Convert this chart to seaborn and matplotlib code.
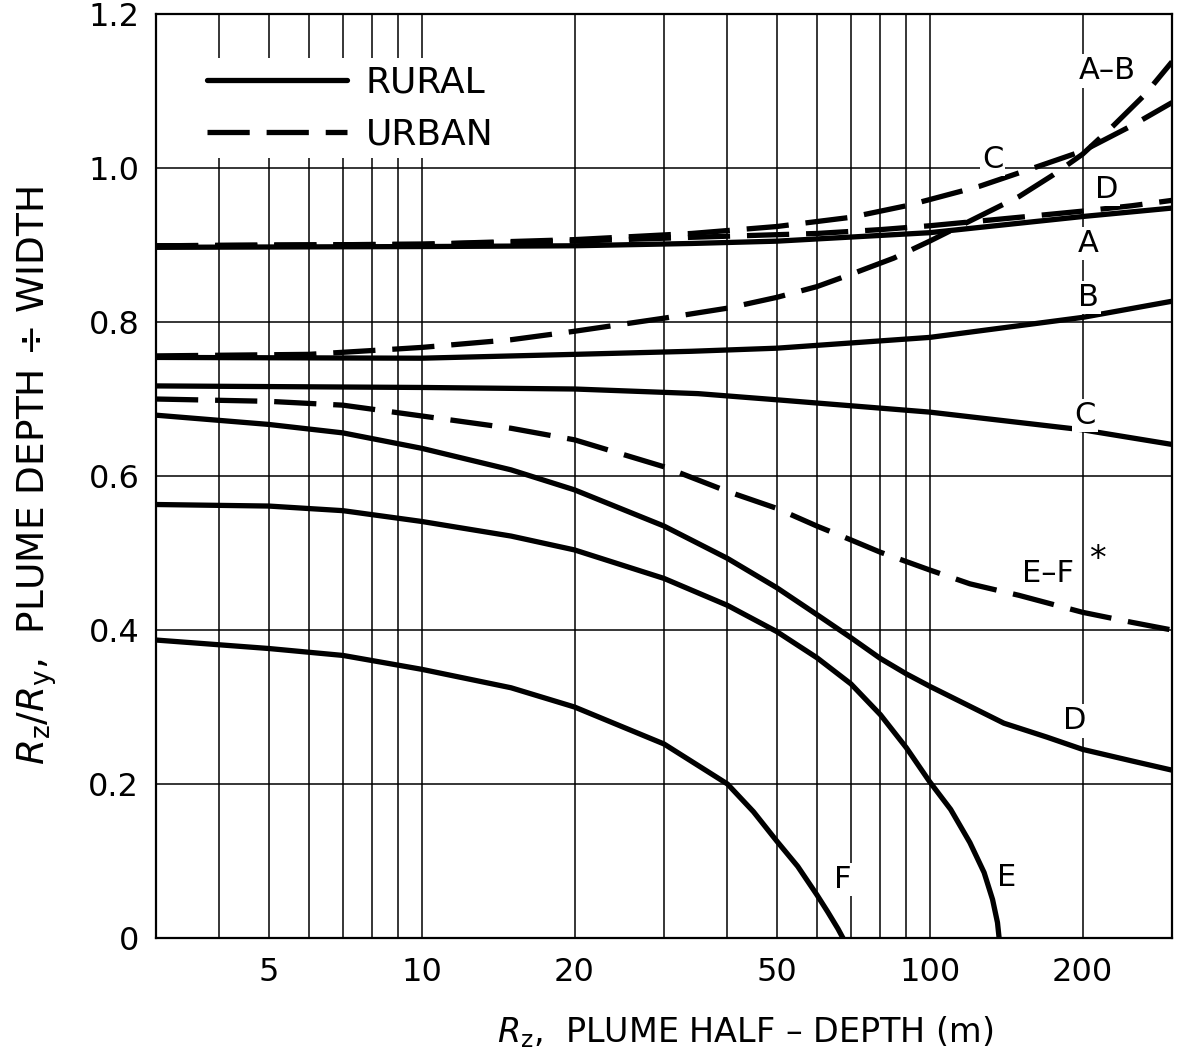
import numpy as np
import pandas as pd
import seaborn as sns
import matplotlib
matplotlib.use("Agg")
import matplotlib.pyplot as plt
from matplotlib.lines import Line2D

# ---- data ----
# rural (solid)
rural_A_x = [3, 10, 20, 34, 50, 100, 200, 300]
rural_A_y = [0.897, 0.898, 0.899, 0.902, 0.905, 0.916, 0.937, 0.948]
rural_B_x = [3, 10, 20, 34, 50, 100, 200, 300]
rural_B_y = [0.754, 0.753, 0.758, 0.762, 0.766, 0.780, 0.806, 0.827]
rural_C_x = [3, 10, 20, 35, 50, 100, 200, 300]
rural_C_y = [0.717, 0.715, 0.713, 0.707, 0.699, 0.683, 0.660, 0.641]
rural_D_x = [3, 5, 7, 10, 15, 20, 30, 40, 50, 60, 70, 80, 90, 100, 120, 140,
             170, 200, 250, 300]
rural_D_y = [0.679, 0.667, 0.656, 0.636, 0.608, 0.582, 0.535, 0.493, 0.455,
             0.420, 0.390, 0.363, 0.343, 0.327, 0.301, 0.279, 0.261, 0.245,
             0.230, 0.218]
rural_E_x = [3, 5, 7, 10, 15, 20, 30, 40, 50, 60, 70, 80, 90, 100, 110, 120,
             128, 133, 136, 137]
rural_E_y = [0.563, 0.561, 0.555, 0.541, 0.522, 0.504, 0.467, 0.432, 0.398,
             0.364, 0.330, 0.290, 0.247, 0.203, 0.167, 0.124, 0.085, 0.050,
             0.020, 0.0]
rural_F_x = [3, 5, 7, 10, 15, 20, 30, 40, 45, 50, 55, 60, 63, 66, 67.5]
rural_F_y = [0.387, 0.376, 0.367, 0.349, 0.325, 0.300, 0.252, 0.200, 0.164,
             0.126, 0.093, 0.056, 0.034, 0.012, 0.0]

# urban (dashed)
urban_AB_x = [3, 6, 8, 10, 15, 20, 30, 40, 50, 60, 70, 85, 100, 125, 150, 175,
              200, 230, 265, 300]
urban_AB_y = [0.756, 0.758, 0.763, 0.767, 0.777, 0.788, 0.805, 0.818, 0.832,
              0.846, 0.862, 0.883, 0.905, 0.937, 0.963, 0.991, 1.018, 1.055,
              1.095, 1.138]
urban_C_x = [3, 10, 20, 34, 50, 70, 90, 100, 125, 160, 200, 250, 300]
urban_C_y = [0.899, 0.901, 0.907, 0.915, 0.924, 0.936, 0.951, 0.959, 0.976,
             1.000, 1.022, 1.055, 1.085]
urban_D_x = [3, 10, 20, 34, 60, 80, 100, 150, 200, 250, 300]
urban_D_y = [0.899, 0.901, 0.905, 0.910, 0.915, 0.920, 0.925, 0.936, 0.944,
             0.951, 0.958]
urban_EF_x = [3, 5, 7, 10, 15, 20, 30, 40, 50, 60, 70, 80, 100, 120, 150, 200,
              250, 300]
urban_EF_y = [0.700, 0.697, 0.692, 0.678, 0.662, 0.647, 0.612, 0.580, 0.558,
              0.535, 0.517, 0.501, 0.478, 0.460, 0.445, 0.423, 0.410, 0.400]

# curve labels
label_text = ["A–B", "C", "D", "A", "B", "C", "E–F", "D", "F", "E"]
label_x = [224, 133, 223, 205, 205, 202, 171, 193, 67.3, 142]
label_y = [1.126, 1.011, 0.972, 0.902, 0.832, 0.679, 0.474, 0.282, 0.076, 0.078]

x_labeled = [5, 10, 20, 50, 100, 200]
y_ticks = [0, 0.2, 0.4, 0.6, 0.8, 1.0, 1.2]
y_ticklabels = ["0", "0.2", "0.4", "0.6", "0.8", "1.0", "1.2"]

# long table for seaborn
curves = [
    ("rural A", "RURAL", rural_A_x, rural_A_y),
    ("rural B", "RURAL", rural_B_x, rural_B_y),
    ("rural C", "RURAL", rural_C_x, rural_C_y),
    ("rural D", "RURAL", rural_D_x, rural_D_y),
    ("rural E", "RURAL", rural_E_x, rural_E_y),
    ("rural F", "RURAL", rural_F_x, rural_F_y),
    ("urban A-B", "URBAN", urban_AB_x, urban_AB_y),
    ("urban C", "URBAN", urban_C_x, urban_C_y),
    ("urban D", "URBAN", urban_D_x, urban_D_y),
    ("urban E-F", "URBAN", urban_EF_x, urban_EF_y),
]
rows = []
for name, setting, xs, ys in curves:
    for xv, yv in zip(xs, ys):
        rows.append((name, setting, xv, yv))
df = pd.DataFrame(rows, columns=["curve", "setting", "Rz", "ratio"])

sns.set_theme(style="white")
plt.rcParams["font.family"] = ["DejaVu Sans"]
plt.rcParams["mathtext.fontset"] = "dejavusans"
plt.rcParams["text.color"] = "black"
plt.rcParams["axes.labelcolor"] = "black"
plt.rcParams["xtick.color"] = "black"
plt.rcParams["ytick.color"] = "black"

fig = plt.figure(figsize=(11.79, 10.61), dpi=100)
ax = fig.add_axes([0.1323, 0.1159, 0.8618, 0.8709])

LW = 3.8
DASH = (8, 3.2)
sns.lineplot(data=df, x="Rz", y="ratio", units="curve", estimator=None,
             style="setting", dashes={"RURAL": "", "URBAN": DASH},
             color="black", linewidth=LW, legend=False, sort=False, ax=ax)

ax.set_xscale("log")
ax.set_xlim(3, 300)
ax.set_ylim(0, 1.2)

grid_x = list(range(3, 10)) + list(range(10, 100, 10)) + [100, 200, 300]
ax.set_xticks(grid_x)
ax.set_xticklabels([str(v) if v in x_labeled else "" for v in grid_x])
ax.xaxis.set_minor_locator(matplotlib.ticker.NullLocator())
ax.set_yticks(y_ticks)
ax.set_yticklabels(y_ticklabels)
ax.grid(True, color="black", linewidth=1.1, zorder=0)
ax.set_axisbelow(True)
ax.tick_params(length=0, labelsize=23, colors="black")
ax.tick_params(axis="x", pad=14)
ax.tick_params(axis="y", pad=12)
for s in ax.spines.values():
    s.set_color("black")
    s.set_linewidth(1.6)

ax.set_xlabel(r"$R_\mathrm{z}$,  PLUME HALF – DEPTH (m)", fontsize=24)
ax.set_ylabel(r"$R_\mathrm{z}/R_\mathrm{y}$,  PLUME DEPTH ÷ WIDTH", fontsize=27)
ax.xaxis.set_label_coords(0.58, -0.083)
ax.yaxis.set_label_coords(-0.095, 0.5)

box = dict(facecolor="white", edgecolor="none", pad=1.5)
for t, xv, yv in zip(label_text, label_x, label_y):
    ax.text(xv, yv, t, fontsize=22, ha="center", va="center", bbox=box, zorder=4)
ax.text(214, 0.492, "*", fontsize=24, ha="center", va="center", bbox=box, zorder=4)

handles = [Line2D([], [], color="black", lw=LW),
           Line2D([], [], color="black", lw=LW, dashes=DASH)]
leg = ax.legend(handles, ["RURAL", "URBAN"], loc="upper left",
                bbox_to_anchor=(0.025, 0.972), fontsize=26, frameon=True,
                facecolor="white", edgecolor="none", framealpha=1,
                handlelength=3.9, handletextpad=0.5, labelspacing=0.5,
                borderpad=0.2, fancybox=False)

fig.savefig("out.png", dpi=100)
